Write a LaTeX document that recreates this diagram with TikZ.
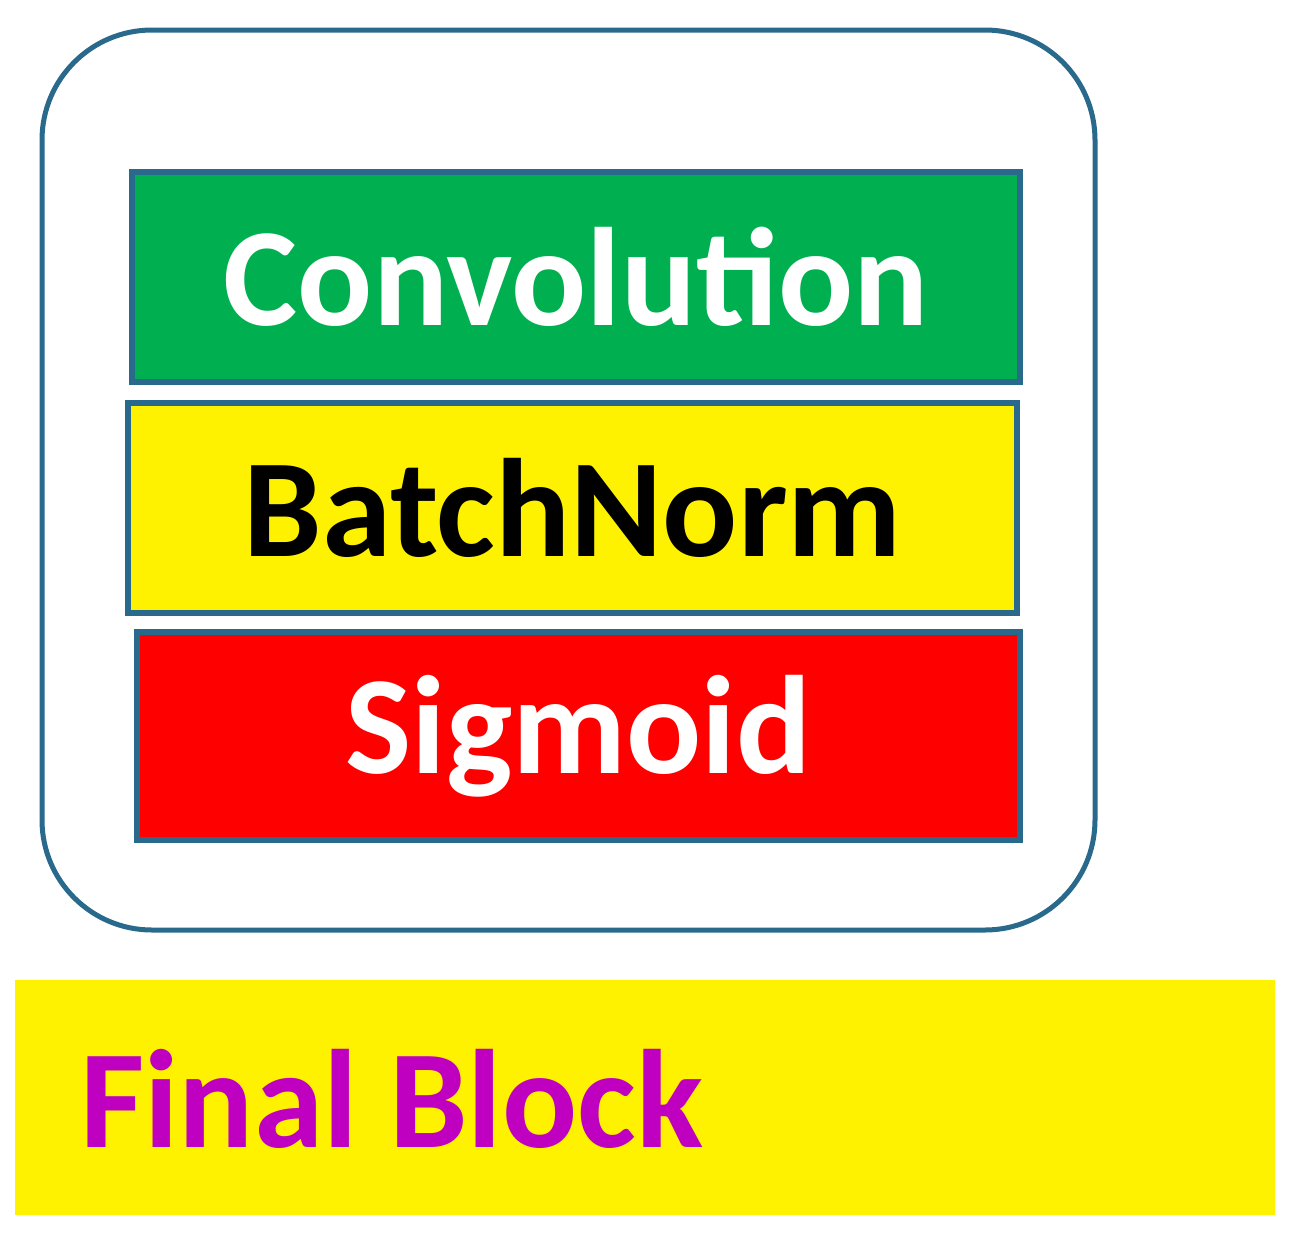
\documentclass[tikz,border=0pt]{standalone}
\usepackage{fontspec}
\setmainfont{Carlito}
\definecolor{bord}{RGB}{40,105,140}
\definecolor{grn}{RGB}{0,176,80}
\definecolor{purp}{RGB}{192,0,192}
\begin{document}
\begin{tikzpicture}[x=1pt,y=-1pt,
  layer/.style={draw=bord,line width=6pt,inner sep=0pt,font=\fontsize{140}{140}\selectfont\bfseries},
]
\useasboundingbox (0,0) rectangle (1295,1237);
\node[draw=bord,line width=5pt,rounded corners=110pt,minimum width=1053pt,minimum height=900pt,inner sep=0pt] (outer) at (568.5,480) {};
\node[layer,fill=grn,text=white,minimum width=888pt,minimum height=210pt] (conv) at (576,277) {Convolution};
\node[layer,fill=yellow,text=black,minimum width=889pt,minimum height=210pt] (bn) at (572.5,508) {BatchNorm};
\node[layer,fill=red,text=white,minimum width=883pt,minimum height=208pt] (sig) at (578.5,736) {Sigmoid};
\node[fill=yellow,minimum width=1260pt,minimum height=235pt,inner sep=0pt] (lab) at (645,1097.5) {};
\node[anchor=base west,inner sep=0pt,text=purp,font=\fontsize{140}{140}\selectfont\bfseries] (labt) at (80,1147) {Final Block};
\end{tikzpicture}
\end{document}
